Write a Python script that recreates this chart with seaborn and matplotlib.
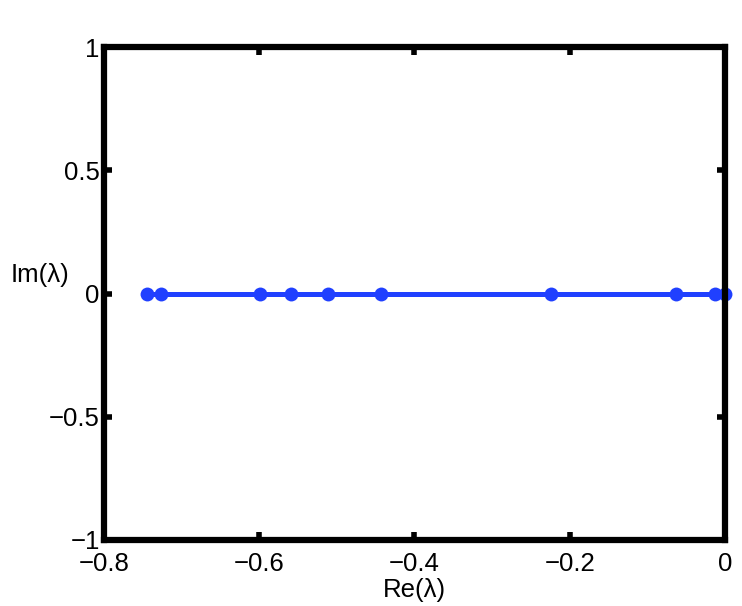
import numpy as np
import pandas as pd
import matplotlib
matplotlib.use("Agg")
import matplotlib.pyplot as plt
import seaborn as sns

# eigenvalues
re_part = [-0.7447, -0.7267, -0.599, -0.5595, -0.5115, -0.4428, -0.2238, -0.063, -0.0129, 0.0]
im_part = [0, 0, 0, 0, 0, 0, 0, 0, 0, 0]
xticks = [-0.8, -0.6, -0.4, -0.2, 0]
yticks = [-1, -0.5, 0, 0.5, 1]
xticklabels = ["\u22120.8", "\u22120.6", "\u22120.4", "\u22120.2", "0"]
yticklabels = ["\u22121", "\u22120.5", "0", "0.5", "1"]

df = pd.DataFrame({"re": re_part, "im": im_part})

sns.set_style("white")
plt.rcParams['font.family'] = ['Liberation Sans', 'DejaVu Sans']
plt.rcParams['text.color'] = 'black'
plt.rcParams['axes.labelcolor'] = 'black'
plt.rcParams['xtick.color'] = 'black'
plt.rcParams['ytick.color'] = 'black'

fig = plt.figure(figsize=(7.42, 6.06), dpi=100)
ax = fig.add_axes([0.140, 0.109, 0.837, 0.813])

sns.lineplot(data=df, x="re", y="im", ax=ax, color="#2040ff", linewidth=3.6,
             marker="o", markersize=10, markeredgewidth=0, sort=True, clip_on=False)

ax.set_xlim(-0.8, 0)
ax.set_ylim(-1, 1)
ax.set_xticks(xticks)
ax.set_yticks(yticks)
ax.set_xticklabels(xticklabels)
ax.set_yticklabels(yticklabels)
ax.tick_params(direction="in", length=6, width=4, top=True, right=True,
               bottom=True, left=True, labelsize=18.5, colors="black")
ax.tick_params(axis="x", pad=9)
ax.tick_params(axis="y", pad=3)
for s in ax.spines.values():
    s.set_linewidth(4.5)
    s.set_color("black")
    s.set_zorder(3)

ax.set_xlabel("Re(\u03bb)", fontsize=18.5)
ax.xaxis.set_label_coords(0.5, -0.078)
ax.set_ylabel("Im(\u03bb)", fontsize=18.5, rotation=0, va="center")
ax.yaxis.set_label_coords(-0.103, 0.538)

fig.savefig("out.png", dpi=100)
